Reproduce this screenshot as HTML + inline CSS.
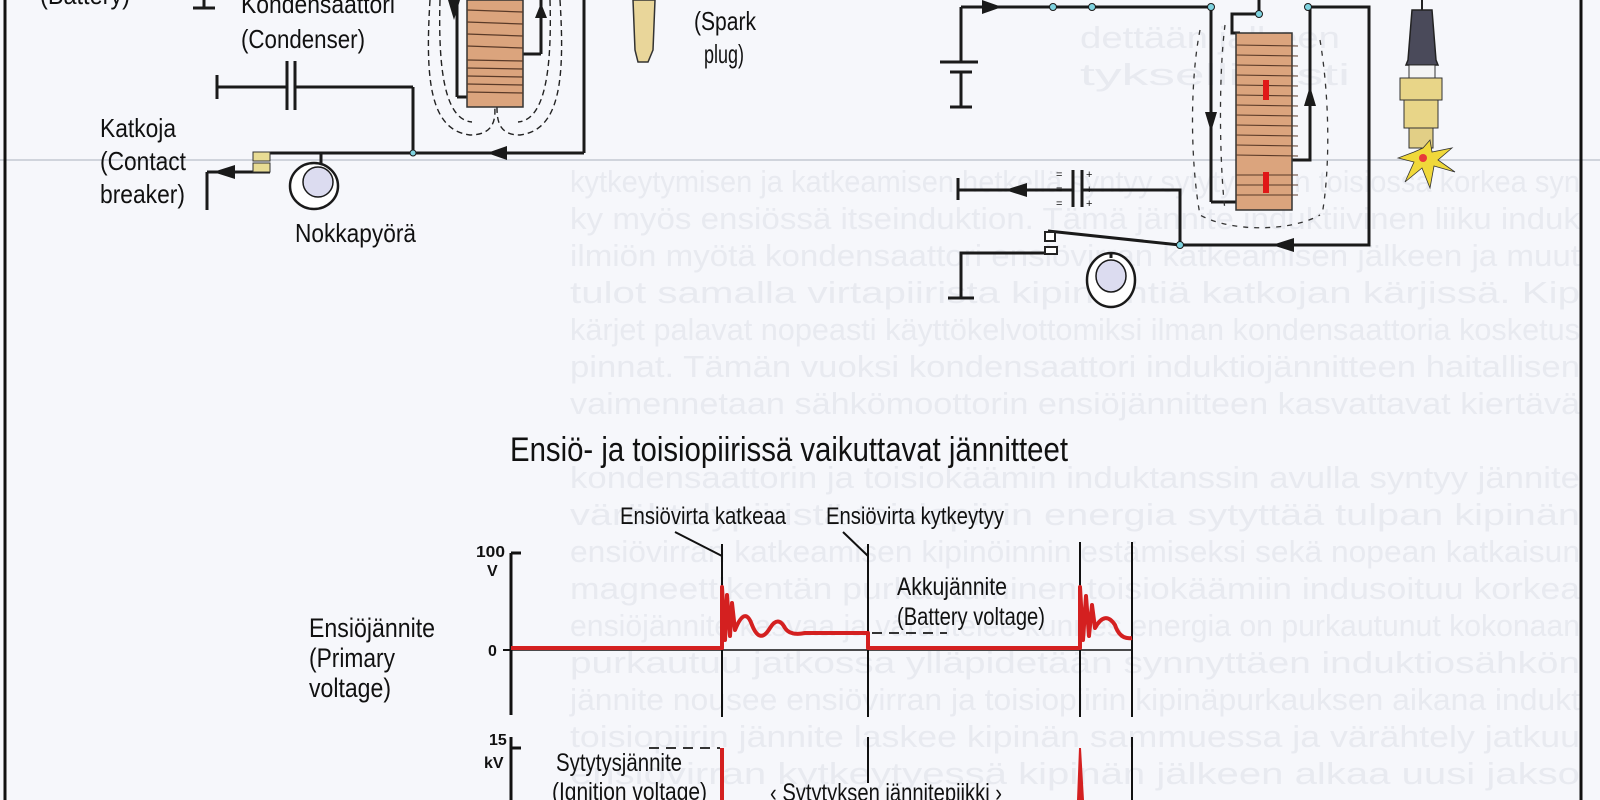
<!DOCTYPE html>
<html><head><meta charset="utf-8">
<style>
html,body{margin:0;padding:0;background:#f6f7fb;}
svg{display:block;}
text{font-family:"Liberation Sans Narrow","Liberation Sans",sans-serif;fill:#111;}
.ghost text{fill:#e8eaf0;font-size:31px;}
</style></head><body>
<svg width="1600" height="800" viewBox="0 0 1600 800" xmlns="http://www.w3.org/2000/svg">
<rect width="1600" height="800" fill="#f6f7fb"/>
<g class="ghost">
<text x="1080" y="48" textLength="260" lengthAdjust="spacingAndGlyphs">dettään jalkeen</text>
<text x="1080" y="85" textLength="270" lengthAdjust="spacingAndGlyphs">tyksellisesti</text>
<text x="570" y="192" textLength="1010" lengthAdjust="spacingAndGlyphs">kytkeytymisen ja katkeamisen hetkellä syntyy sytytyspiirin toisiossa korkea syn</text>
<text x="570" y="229" textLength="1010" lengthAdjust="spacingAndGlyphs">ky myös ensiössä itseinduktion. Tämä jännite induktiivinen liiku induk</text>
<text x="570" y="266" textLength="1010" lengthAdjust="spacingAndGlyphs">ilmiön myötä kondensaattori ensiövirran katkeamisen jälkeen ja muut</text>
<text x="570" y="303" textLength="1010" lengthAdjust="spacingAndGlyphs">tulot samalla virtapiirista kipinöintiä katkojan kärjissä. Kip</text>
<text x="570" y="340" textLength="1010" lengthAdjust="spacingAndGlyphs">kärjet palavat nopeasti käyttökelvottomiksi ilman kondensaattoria kosketus</text>
<text x="570" y="377" textLength="1010" lengthAdjust="spacingAndGlyphs">pinnat. Tämän vuoksi kondensaattori induktiojännitteen haitallisen</text>
<text x="570" y="414" textLength="1010" lengthAdjust="spacingAndGlyphs">vaimennetaan sähkömoottorin ensiöjännitteen kasvattavat kiertävä</text>
<text x="570" y="488" textLength="1010" lengthAdjust="spacingAndGlyphs">kondensaattorin ja toisiokäämin induktanssin avulla syntyy jännite</text>
<text x="570" y="525" textLength="1010" lengthAdjust="spacingAndGlyphs">värähtelypiiristä toisiopiirin energia sytyttää tulpan kipinän</text>
<text x="570" y="562" textLength="1010" lengthAdjust="spacingAndGlyphs">ensiövirran katkeamisen kipinöinnin estämiseksi sekä nopean katkaisun</text>
<text x="570" y="599" textLength="1010" lengthAdjust="spacingAndGlyphs">magneettikentän purkautuminen toisiokäämiin indusoituu korkea</text>
<text x="570" y="636" textLength="1010" lengthAdjust="spacingAndGlyphs">ensiöjännite kasvaa ja värähtelee kunnes energia on purkautunut kokonaan</text>
<text x="570" y="673" textLength="1010" lengthAdjust="spacingAndGlyphs">purkautuu jatkossa ylläpidetään synnyttäen induktiosähkön</text>
<text x="570" y="710" textLength="1010" lengthAdjust="spacingAndGlyphs">jännite nousee ensiövirran ja toisiopiirin kipinäpurkauksen aikana indukt</text>
<text x="570" y="747" textLength="1010" lengthAdjust="spacingAndGlyphs">toisiopiirin jännite laskee kipinän sammuessa ja värähtely jatkuu</text>
<text x="570" y="784" textLength="1010" lengthAdjust="spacingAndGlyphs">ensiövirran kytkeytyessä kipinän jälkeen alkaa uusi jakso</text>
</g>
<line x1="0" y1="160" x2="1600" y2="160" stroke="#d0d4dc" stroke-width="2"/>
<line x1="5" y1="0" x2="5" y2="800" stroke="#111" stroke-width="3"/>
<line x1="1581" y1="0" x2="1581" y2="800" stroke="#111" stroke-width="3"/>

<g stroke="#1a1a1a" stroke-width="3" fill="none">
<line x1="204" y1="0" x2="204" y2="8"/><line x1="193" y1="8" x2="215" y2="8"/>
<line x1="217" y1="75" x2="217" y2="99"/>
<line x1="217" y1="87" x2="287" y2="87"/><line x1="295" y1="87" x2="413" y2="87"/>
<line x1="287" y1="61" x2="287" y2="110"/><line x1="295" y1="61" x2="295" y2="110"/>
<line x1="413" y1="87" x2="413" y2="153"/>
<line x1="268" y1="153" x2="584" y2="153"/>
<line x1="584" y1="153" x2="584" y2="0"/>
<line x1="270" y1="172" x2="207" y2="172"/>
<line x1="207" y1="172" x2="207" y2="210"/>
<line x1="321" y1="153" x2="321" y2="164"/>
<line x1="457" y1="0" x2="457" y2="97"/><line x1="457" y1="97" x2="467" y2="97"/>
<line x1="541" y1="0" x2="541" y2="54"/><line x1="541" y1="54" x2="523" y2="54"/>
</g>
<polygon points="487,153 507,146 507,160" fill="#1a1a1a"/>
<polygon points="213,172 235,165 235,179" fill="#1a1a1a"/>
<polygon points="454,20 448,0 460,0" fill="#1a1a1a"/>
<polygon points="541,3 535,18 547,18" fill="#1a1a1a"/>
<circle cx="413" cy="153" r="3" fill="#7fd3e0" stroke="#1a1a1a" stroke-width="1"/>
<g stroke="#222" stroke-width="1.4" stroke-dasharray="6,4" fill="none">
<path d="M430,0 C425,80 430,130 470,135 C500,135 495,110 494,100"/>
<path d="M440,0 C438,70 445,120 472,122"/>
<path d="M560,0 C565,80 560,130 520,135 C495,135 497,115 497,100"/>
<path d="M550,0 C552,70 545,120 518,122"/>
</g>
<rect x="467" y="0" width="56" height="107" fill="#dba47d" stroke="#333" stroke-width="1.5"/>
<g stroke="#5a3a28" stroke-width="1.2">
<line x1="467" y1="10" x2="523" y2="12"/><line x1="467" y1="22" x2="523" y2="24"/><line x1="467" y1="34" x2="523" y2="36"/>
<line x1="467" y1="46" x2="523" y2="48"/><line x1="467" y1="60" x2="523" y2="61"/><line x1="467" y1="68" x2="523" y2="69"/>
<line x1="467" y1="76" x2="523" y2="77"/><line x1="467" y1="84" x2="523" y2="85"/><line x1="467" y1="92" x2="523" y2="93"/>
</g>
<rect x="253" y="152" width="17" height="9" fill="#e8dc94" stroke="#333"/>
<rect x="253" y="163" width="17" height="9" fill="#e8dc94" stroke="#333"/>
<ellipse cx="314" cy="186" rx="24" ry="23" fill="#fff" stroke="#1a1a1a" stroke-width="2.5"/>
<ellipse cx="318" cy="182" rx="15" ry="15" fill="#dcdcf0" stroke="#1a1a1a" stroke-width="1.5"/>
<path d="M633,0 L655,0 L653,50 L648,62 L638,62 L635,50 Z" fill="#e9d69a" stroke="#333" stroke-width="1.5"/>
<text x="694" y="30" font-size="26" textLength="62" lengthAdjust="spacingAndGlyphs">(Spark</text>
<text x="704" y="63" font-size="26" textLength="40" lengthAdjust="spacingAndGlyphs">plug)</text>
<text x="40" y="4" font-size="26" textLength="90" lengthAdjust="spacingAndGlyphs">(Battery)</text>
<text x="241" y="13" font-size="26" textLength="154" lengthAdjust="spacingAndGlyphs">Kondensaattori</text>
<text x="241" y="48" font-size="26" textLength="124" lengthAdjust="spacingAndGlyphs">(Condenser)</text>
<text x="100" y="137" font-size="26" textLength="76" lengthAdjust="spacingAndGlyphs">Katkoja</text>
<text x="100" y="170" font-size="26" textLength="86" lengthAdjust="spacingAndGlyphs">(Contact</text>
<text x="100" y="203" font-size="26" textLength="85" lengthAdjust="spacingAndGlyphs">breaker)</text>
<text x="295" y="242" font-size="26" textLength="121" lengthAdjust="spacingAndGlyphs">Nokkapyörä</text>

<g stroke="#1a1a1a" stroke-width="3" fill="none">
<line x1="961" y1="7" x2="1211" y2="7"/>
<line x1="961" y1="7" x2="961" y2="62"/>
<line x1="940" y1="62" x2="978" y2="62"/>
<line x1="950" y1="72" x2="972" y2="72"/>
<line x1="961" y1="72" x2="961" y2="107"/>
<line x1="950" y1="107" x2="972" y2="107"/>
<line x1="1211" y1="7" x2="1211" y2="202"/><line x1="1211" y1="202" x2="1236" y2="202"/>
<polyline points="1240,33 1232,33 1232,14 1259,14 1259,0"/>
<polyline points="1292,160 1310,160 1310,7 1369,7 1369,245 1180,245"/>
<line x1="1180" y1="245" x2="1048" y2="231"/>
<polyline points="1057,253 961,253 961,298"/>
<line x1="948" y1="298" x2="974" y2="298"/>
<line x1="958" y1="178" x2="958" y2="200"/>
<polyline points="958,190 1073,190"/>
<polyline points="1082,190 1180,190 1180,245"/>
<line x1="1073" y1="170" x2="1073" y2="207"/><line x1="1082" y1="170" x2="1082" y2="207"/>
</g>
<g font-size="11"><text x="1056" y="178">=</text><text x="1056" y="193">=</text><text x="1056" y="207">=</text>
<text x="1086" y="178">+</text><text x="1086" y="193">+</text><text x="1086" y="207">+</text></g>
<polygon points="1002,7 982,0 982,14" fill="#1a1a1a"/>
<polygon points="1211,132 1205,112 1217,112" fill="#1a1a1a"/>
<polygon points="1310,86 1304,106 1316,106" fill="#1a1a1a"/>
<polygon points="1272,245 1294,238 1294,252" fill="#1a1a1a"/>
<polygon points="1005,190 1027,183 1027,197" fill="#1a1a1a"/>
<g fill="#7fd3e0" stroke="#1a1a1a" stroke-width="1">
<circle cx="1053" cy="7" r="3.5"/><circle cx="1092" cy="7" r="3.5"/><circle cx="1211" cy="7" r="3.5"/>
<circle cx="1259" cy="14" r="3.5"/><circle cx="1308" cy="7" r="3.5"/><circle cx="1180" cy="245" r="3.5"/>
</g>
<g stroke="#333" stroke-width="1.3" stroke-dasharray="5,6" fill="none">
<path d="M1200,30 C1190,80 1190,160 1200,215 C1230,232 1290,232 1320,215"/>
<path d="M1225,25 C1218,80 1220,170 1225,210"/>
<path d="M1320,40 C1330,100 1330,170 1322,215"/>
</g>
<rect x="1236" y="33" width="56" height="177" fill="#dba47d" stroke="#333" stroke-width="1.5"/>
<g stroke="#5a3a28" stroke-width="1.1">
<line x1="1236" y1="45" x2="1298" y2="46"/><line x1="1236" y1="55" x2="1298" y2="56"/><line x1="1236" y1="65" x2="1298" y2="66"/>
<line x1="1236" y1="75" x2="1298" y2="76"/><line x1="1236" y1="85" x2="1298" y2="86"/><line x1="1236" y1="95" x2="1298" y2="96"/>
<line x1="1236" y1="105" x2="1298" y2="106"/><line x1="1236" y1="115" x2="1298" y2="116"/><line x1="1236" y1="125" x2="1298" y2="126"/>
<line x1="1236" y1="135" x2="1298" y2="136"/><line x1="1236" y1="145" x2="1298" y2="146"/><line x1="1236" y1="155" x2="1298" y2="156"/>
<line x1="1236" y1="175" x2="1298" y2="175"/><line x1="1236" y1="185" x2="1298" y2="185"/><line x1="1236" y1="195" x2="1298" y2="195"/>
</g>
<rect x="1263" y="80" width="6" height="20" fill="#e01818"/>
<rect x="1263" y="172" width="6" height="21" fill="#e01818"/>
<rect x="1045" y="232" width="10" height="9" fill="#fff" stroke="#222" stroke-width="2"/>
<rect x="1045" y="247" width="12" height="7" fill="#fff" stroke="#222" stroke-width="2"/>
<ellipse cx="1111" cy="280" rx="24" ry="27" fill="#fff" stroke="#1a1a1a" stroke-width="2.5"/>
<ellipse cx="1111" cy="276" rx="15" ry="16" fill="#dcdcf0" stroke="#1a1a1a" stroke-width="1.5"/>
<line x1="1111" y1="253" x2="1111" y2="258" stroke="#1a1a1a" stroke-width="3"/>
<line x1="1422" y1="0" x2="1422" y2="10" stroke="#222" stroke-width="2"/>
<path d="M1412,10 L1432,10 L1436,60 L1438,65 L1406,65 L1408,60 Z" fill="#4a4a5a" stroke="#222" stroke-width="1.5"/>
<rect x="1409" y="65" width="26" height="13" fill="#f4f4f4" stroke="#333"/>
<rect x="1400" y="78" width="42" height="22" fill="#e8d588" stroke="#333"/>
<rect x="1404" y="100" width="34" height="28" fill="#e8d588" stroke="#333"/>
<rect x="1409" y="128" width="24" height="20" fill="#e2cf86" stroke="#333"/>
<polygon points="1423,148 1430,140 1432,152 1452,148 1438,160 1455,172 1434,166 1430,188 1422,168 1405,182 1414,162 1398,158 1414,152" fill="#f0d83a" stroke="#333" stroke-width="0.8"/>
<circle cx="1423" cy="158" r="4" fill="#e83a3a"/>

<text x="510" y="461" font-size="34" textLength="558" lengthAdjust="spacingAndGlyphs">Ensiö- ja toisiopiirissä vaikuttavat jännitteet</text>
<text x="620" y="524" font-size="24" textLength="166" lengthAdjust="spacingAndGlyphs">Ensiövirta katkeaa</text>
<text x="826" y="524" font-size="24" textLength="178" lengthAdjust="spacingAndGlyphs">Ensiövirta kytkeytyy</text>
<g stroke="#111" stroke-width="2">
<line x1="675" y1="532" x2="722" y2="556"/>
<line x1="843" y1="532" x2="868" y2="556"/>
<line x1="722" y1="544" x2="722" y2="717"/>
<line x1="868" y1="544" x2="868" y2="717"/>
<line x1="1080" y1="542" x2="1080" y2="717"/>
<line x1="1132" y1="542" x2="1132" y2="717"/>
<line x1="511" y1="650" x2="1132" y2="650" stroke-width="1.5"/>
<line x1="868" y1="737" x2="868" y2="783"/>
<line x1="1132" y1="737" x2="1132" y2="800"/>
</g>
<g stroke="#111" stroke-width="3">
<line x1="511" y1="553" x2="511" y2="715"/>
<line x1="511" y1="553" x2="521" y2="553"/>
<line x1="511" y1="737" x2="511" y2="800"/>
<line x1="511" y1="748" x2="521" y2="748"/>
</g>
<line x1="503" y1="650" x2="511" y2="650" stroke="#111" stroke-width="2"/>
<g font-family="Liberation Sans" font-weight="bold" font-size="16">
<text x="476" y="557" fill="#1a2466" textLength="29" lengthAdjust="spacingAndGlyphs">100</text>
<text x="487" y="576" fill="#1a2466">V</text>
<text x="488" y="656" fill="#1a2466">0</text>
<text x="489" y="745" fill="#1a2466">15</text>
<text x="484" y="768" fill="#1a2466">kV</text>
</g>
<path d="M511,648 L722,648 L722,587 L725,640 L727,595 L730,636 L732,603 L735,630 Q745,605 752,625 Q760,645 770,628 Q778,615 785,628 Q790,636 805,633 L868,633 L868,648 L1080,648 L1080,587 L1083,640 L1086,596 L1089,636 L1092,605 L1095,628 Q1105,610 1115,625 Q1120,640 1132,638" fill="none" stroke="#d42020" stroke-width="4" stroke-linejoin="round"/>
<line x1="872" y1="633" x2="947" y2="633" stroke="#333" stroke-width="2" stroke-dasharray="10,7"/>
<text x="897" y="595" font-size="25" textLength="110" lengthAdjust="spacingAndGlyphs">Akkujännite</text>
<text x="897" y="625" font-size="25" textLength="148" lengthAdjust="spacingAndGlyphs">(Battery voltage)</text>
<text x="309" y="637" font-size="27" textLength="126" lengthAdjust="spacingAndGlyphs">Ensiöjännite</text>
<text x="309" y="667" font-size="27" textLength="86" lengthAdjust="spacingAndGlyphs">(Primary</text>
<text x="309" y="697" font-size="27" textLength="82" lengthAdjust="spacingAndGlyphs">voltage)</text>
<line x1="649" y1="748" x2="720" y2="748" stroke="#333" stroke-width="2" stroke-dasharray="10,7"/>
<line x1="722" y1="748" x2="722" y2="800" stroke="#d42020" stroke-width="4"/>
<path d="M1078,800 L1080,748 L1083,800" fill="#d42020" stroke="#d42020" stroke-width="2"/>
<text x="556" y="771" font-size="25" textLength="126" lengthAdjust="spacingAndGlyphs">Sytytysjännite</text>
<text x="552" y="800" font-size="25" textLength="155" lengthAdjust="spacingAndGlyphs">(Ignition voltage)</text>
<text x="770" y="801" font-size="25" textLength="232" lengthAdjust="spacingAndGlyphs">‹ Sytytyksen jännitepiikki ›</text>
</svg>
</body></html>
